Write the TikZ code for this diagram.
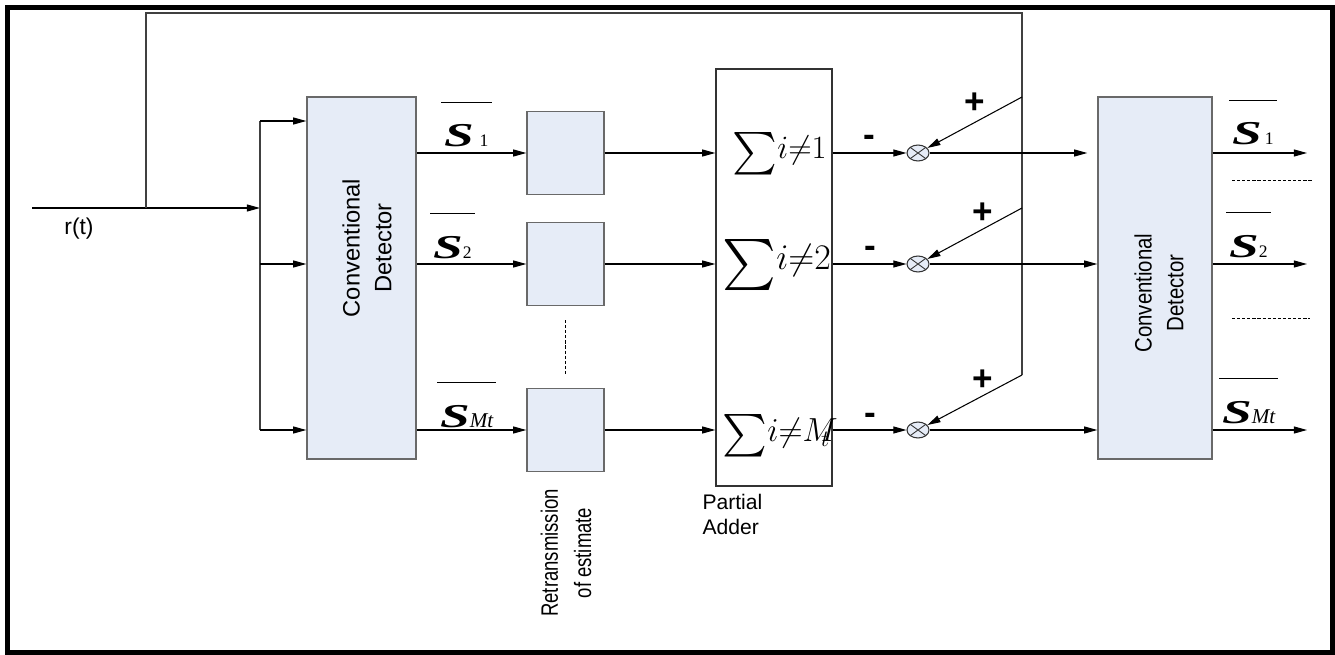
\documentclass[tikz,border=0pt]{standalone}
\usepackage{fix-cm}
\usepackage{amsmath}
\usepackage{exscale}
\usepackage{graphicx}
\usepackage{fontspec}
\setsansfont{Liberation Sans}
\newfontfamily\tms{Liberation Serif}
\usepackage{tikz}
\usetikzlibrary{
arrows.meta,
positioning,
shapes.geometric,
calc
}
\definecolor{detblue}{RGB}{230,236,247}
\definecolor{boxgray}{RGB}{105,105,105}

% stretched estimate symbol and its small index
\newcommand{\estS}{\scalebox{1.6}[1]{\fontsize{19}{19}\selectfont\bfseries\itshape S}}
\newcommand{\idx}[1]{{\fontsize{10}{10}\selectfont #1}}
\newcommand{\squeeze}[2]{\scalebox{#1}[1]{#2}}
\newcommand{\bigsum}{\raisebox{-0.2em}{\scalebox{1.4}{$\sum$}}}

\begin{document}
\begin{tikzpicture}[
  x=0.02cm, y=-0.02cm,
  >={Triangle[length=7.5pt,width=4pt]},
  line width=0.6pt,
  detector/.style={draw=boxgray, line width=0.8pt, fill=detblue, minimum width=2.18cm, minimum height=7.24cm, inner sep=0pt},
  retx/.style={draw=boxgray, line width=0.8pt, fill=detblue, minimum width=1.54cm, minimum height=1.66cm, inner sep=0pt},
  adder/.style={draw=black!80, line width=0.8pt, minimum width=2.32cm, minimum height=8.34cm, inner sep=0pt},
  junction/.style={ellipse, draw=black!80, fill=detblue, minimum width=0.44cm, minimum height=0.32cm, inner sep=0pt,
    path picture={\draw[line width=0.5pt] (path picture bounding box.north west) -- (path picture bounding box.south east)
      (path picture bounding box.north east) -- (path picture bounding box.south west);}},
  arrow/.style={->, black},
  wire/.style={black!75},
  lbl/.style={font=\sffamily\fontsize{13.5}{18}\selectfont, align=center, inner sep=0pt},
  sign/.style={font=\sffamily\bfseries\fontsize{20}{20}\selectfont, inner sep=0pt},
  est/.style={font=\tms, inner xsep=1.5pt, inner ysep=12.5pt, anchor=base west},
  sumtext/.style={inner sep=0pt, anchor=base west},
  dots/.style={line width=0.5pt, dash pattern=on 1.8pt off 1.1pt}
]
\useasboundingbox (0,0) rectangle (1335,655);

% Frame
\draw[line width=0.1cm] (7.5,7.5) rectangle (1332.5,652.5);

% Blocks
\node[detector] (det1) at (361.5,278) {};
\node[detector, minimum width=2.28cm] (det2) at (1155,278) {};
\node[adder] (add) at (774,277.5) {};
\node[retx] (rt1) at (565.5,153) {};
\node[retx] (rt2) at (565.5,264) {};
\node[retx] (rt3) at (565.5,430) {};
\node[junction] (c1) at (918,153) {};
\node[junction] (c2) at (918,264) {};
\node[junction] (c3) at (918,430) {};

\node[lbl, rotate=90] at (367,248) {Conventional\\Detector};
\node[lbl, rotate=90] at (1159,293) {\squeeze{0.86}{Conventional}\\\squeeze{0.86}{Detector}};
\node[lbl, rotate=90, font=\sffamily\fontsize{13.5}{19}\selectfont] at (566,553)
  {\squeeze{0.78}{Retransmission}\\\squeeze{0.78}{of estimate}};
\node[lbl, anchor=north west, align=left, font=\sffamily\fontsize{12}{14.2}\selectfont] at (702,494) {Partial\\Adder};
\node[lbl, font=\sffamily\fontsize{13}{13}\selectfont] at (79,229) {r(t)};

% Partial sums
\node[sumtext, font=\fontsize{18.5}{18.5}\selectfont] (sum1) at (732,159) {\bigsum$i{\neq}1$};
\node[sumtext, font=\fontsize{20.5}{20.5}\selectfont] (sum2) at (722,270) {\bigsum$i{\neq}2$};
\node[sumtext, font=\fontsize{19}{19}\selectfont] (sum3) at (722,441) {\bigsum$i{\neq}M\!\!\!_t$};

% Input and its split
\coordinate (rin) at (32,208);
\coordinate (tap) at (146,208);
\coordinate (split) at (260,208);
\coordinate (in1) at (260,121);
\coordinate (in2) at (260,264);
\coordinate (in3) at (260,430);
\draw[arrow] (rin) -- (split);
\draw[wire] (in1) -- (in3);
\foreach \i in {1,2,3}
  \draw[arrow] (in\i) -- (in\i -| det1.west);

% Feedback of r(t) to the combiners
\coordinate (fbl) at (146,13);
\coordinate (fbr) at (1022,13);
\coordinate (fb1) at (1022,97);
\coordinate (fb2) at (1022,208);
\coordinate (fb3) at (1022,375);
\draw[wire] (tap) -- (fbl) -- (fbr) -- (fb3);

% Outputs
\coordinate (out1) at (1307,153);
\coordinate (out2) at (1307,264);
\coordinate (out3) at (1307,430);

\foreach \i in {1,2,3} {
  \draw[arrow] (det1.east |- rt\i) -- (rt\i.west);
  \draw[arrow] (rt\i.east) -- (rt\i -| add.west);
  \draw[arrow] (add.east |- c\i) -- (c\i.west);
  \draw[arrow] (fb\i) -- (c\i);
  \draw[arrow] (det2.east |- c\i) -- (out\i);
}
\draw[arrow, shorten >=0.2cm] (c1.east) -- (c1 -| det2.west);
\draw[arrow] (c2.east) -- (c2 -| det2.west);
\draw[arrow] (c3.east) -- (c3 -| det2.west);

% Signs at the combiners
\node[sign] at (975,103) {+};
\node[sign] at (983,213) {+};
\node[sign] at (983,380) {+};
\node[sign] at (869,141) {-};
\node[sign] at (870,252) {-};
\node[sign] at (870,419) {-};

% Estimates
\node[est] (e1) at (441,147) {\estS\,\,\idx{1}};
\node[est] (e2) at (430,258) {\estS\idx{2}};
\node[est] (e3) at (437,427) {\estS{\fontsize{12}{12}\selectfont\itshape Mt}};
\node[est] (f1) at (1229,145) {\estS\,\idx{1}};
\node[est] (f2) at (1226,257) {\estS\idx{2}};
\node[est] (f3) at (1219,423) {\estS{\fontsize{12}{12}\selectfont\itshape Mt}};
\foreach \n in {e1,e2,e3,f1,f2,f3}
  \draw[line width=0.7pt] (\n.north west) -- (\n.north east);

% Omitted rows
\draw[dots] (565,320) -- (565,375);
\draw[dots] (1232,180) -- (1313,180);
\draw[dots] (1232,318) -- (1310,318);

\end{tikzpicture}
\end{document}
